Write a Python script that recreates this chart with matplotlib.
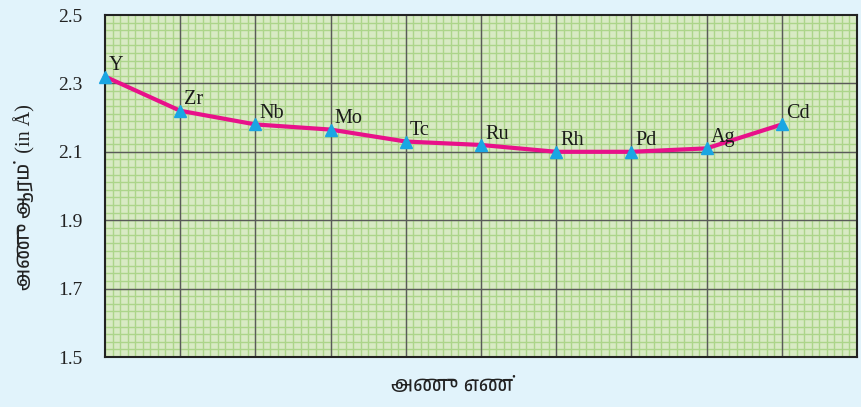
import matplotlib
matplotlib.use('Agg')
import matplotlib.pyplot as plt
from matplotlib import font_manager
import numpy as np

# 4d series elements and their atomic radii (in Angstrom)
elements = ['Y', 'Zr', 'Nb', 'Mo', 'Tc', 'Ru', 'Rh', 'Pd', 'Ag', 'Cd']
radii = [2.32, 2.22, 2.18, 2.165, 2.13, 2.12, 2.10, 2.10, 2.11, 2.18]
yticks = [1.5, 1.7, 1.9, 2.1, 2.3, 2.5]

ylabel_text = 'அணு ஆரம்  (in Å)'
xlabel_text = 'அணு எண்'

# pick a Tamil font that is installed
installed = {f.name for f in font_manager.fontManager.ttflist}
tamil = next((n for n in ['Anek Tamil', 'Noto Sans Tamil', 'FreeSans']
              if n in installed), 'DejaVu Sans')

bg = '#e1f3fb'
fig = plt.figure(figsize=(8.62, 4.07), dpi=100, facecolor=bg)
ax = fig.add_axes([105 / 862, 50 / 407, 752 / 862, 342 / 407])
ax.set_facecolor('#d8eac4')

x = list(range(len(elements)))
ax.set_xlim(0, 10)
ax.set_ylim(1.5, 2.5)

# graph paper: fine green squares under dark major lines
for v in np.arange(0, 10, 0.1):
    ax.axvline(v, color='#acd58a', lw=1.0, zorder=0)
for v in np.arange(1.5, 2.5, 0.2 / 9):
    ax.axhline(v, color='#acd58a', lw=1.0, zorder=0)
for v in range(1, 10):
    ax.axvline(v, color='#5a5a5a', lw=1.0, zorder=1)
for v in yticks[1:-1]:
    ax.axhline(v, color='#5a5a5a', lw=1.0, zorder=1)

ax.set_yticks(yticks)
ax.set_yticklabels(['%.1f' % v for v in yticks])
ax.set_xticks([])
ax.tick_params(which='both', length=0)
ax.tick_params(axis='y', pad=16, labelsize=14)
for t in ax.get_yticklabels():
    t.set_fontfamily('Liberation Serif')
    t.set_color('#222222')

for s in ax.spines.values():
    s.set_color('#222222')
    s.set_linewidth(1.5)
    s.set_zorder(2)

ax.plot(x, radii, color='#e8118a', lw=3, zorder=3, clip_on=False)
ax.plot(x, radii, ls='none', marker='^', ms=9, color='#1aa6e3', zorder=4,
        clip_on=False)

for xi, yi, name in zip(x, radii, elements):
    ax.annotate(name, (xi, yi), xytext=(3, 1), textcoords='offset points',
                fontsize=14.5, family='Liberation Serif', color='#1a1a1a',
                ha='left', va='bottom', zorder=5)

fig.text(25 / 862, 1 - 197 / 407, ylabel_text, rotation=90, ha='center',
         va='center', fontsize=14.5, family=['Liberation Serif', tamil],
         color='#222222')
fig.text(452 / 862, 1 - 385 / 407, xlabel_text, ha='center', va='center',
         fontsize=14.5, family=[tamil, 'DejaVu Sans'], color='#222222')

fig.savefig('out.png', dpi=100, facecolor=bg)
